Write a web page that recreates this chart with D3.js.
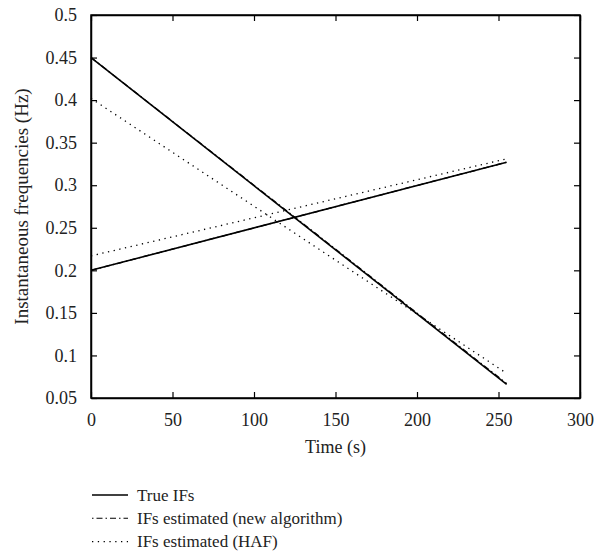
<!DOCTYPE html>
<html>
<head>
<meta charset="utf-8">
<script src="https://cdn.jsdelivr.net/npm/d3@7"></script>
<style>
  body { margin: 0; background: #fff; }
  text { font-family: "Liberation Serif", "DejaVu Serif", serif; fill: #222; }
</style>
</head>
<body>
<svg id="chart"></svg>
<script>
// values
var timeEnds = [0, 255];
var trueDown = [0.45, 0.066];
var trueUp = [0.2, 0.327];
var newTime = [0, 60, 125, 190, 255];
var newDown = [0.45, 0.3599, 0.2625, 0.1648, 0.067];
var newUp = [0.2, 0.2299, 0.2623, 0.2947, 0.327];
var hafDown = [0.402, 0.079];
var hafUp = [0.217, 0.331];
var xTicks = [0, 50, 100, 150, 200, 250, 300];
var yTicks = [0.05, 0.1, 0.15, 0.2, 0.25, 0.3, 0.35, 0.4, 0.45, 0.5];
var legendLabels = ['True IFs', 'IFs estimated (new algorithm)', 'IFs estimated (HAF)'];

var W = 610, H = 556;
var pl = 91, pr = 580, pt = 15, pb = 398;

var svg = d3.select('#chart')
    .attr('width', W)
    .attr('height', H);

var x = d3.scaleLinear().domain([0, 300]).range([pl, pr]);
var y = d3.scaleLinear().domain([0.05, 0.5]).range([pb, pt]);

var line = d3.line()
    .x(function(d) { return x(d[0]); })
    .y(function(d) { return y(d[1]); });

function pairs(t, v) {
    return t.map(function(d, i) { return [d, v[i]]; });
}

var styles = [
    { dash: null, width: 1.6 },
    { dash: '6,3,1.5,3', width: 1.3 },
    { dash: '1.3,4.5', width: 1.3 }
];

var series = [
    { data: pairs(timeEnds, trueDown), s: 0 },
    { data: pairs(timeEnds, trueUp), s: 0 },
    { data: pairs(newTime, newDown), s: 1 },
    { data: pairs(newTime, newUp), s: 1 },
    { data: pairs(timeEnds, hafDown), s: 2 },
    { data: pairs(timeEnds, hafUp), s: 2 }
];

svg.selectAll('.series')
    .data(series)
    .enter()
    .append('path')
    .attr('class', 'series')
    .attr('d', function(d) { return line(d.data); })
    .style('fill', 'none')
    .style('stroke', '#000')
    .style('stroke-width', function(d) { return styles[d.s].width; })
    .style('stroke-dasharray', function(d) { return styles[d.s].dash; });

// axes, ticks pointing inwards on all four sides
var fs = '18px';
function styleText(g) {
    g.selectAll('text').style('font-size', fs).style('font-family', '"Liberation Serif", serif').attr('fill', '#222');
}
svg.append('g')
    .attr('transform', 'translate(0,' + pb + ')')
    .call(d3.axisBottom(x).tickValues(xTicks).tickSizeInner(-6).tickSizeOuter(0).tickPadding(15))
    .call(styleText);
svg.append('g')
    .attr('transform', 'translate(0,' + pt + ')')
    .call(d3.axisTop(x).tickValues(xTicks).tickSizeInner(-6).tickSizeOuter(0).tickFormat(''));
svg.append('g')
    .attr('transform', 'translate(' + pl + ',0)')
    .call(d3.axisLeft(y).tickValues(yTicks).tickSizeInner(-6).tickSizeOuter(0).tickPadding(14).tickFormat(d3.format('')))
    .call(styleText);
svg.append('g')
    .attr('transform', 'translate(' + pr + ',0)')
    .call(d3.axisRight(y).tickValues(yTicks).tickSizeInner(-6).tickSizeOuter(0).tickFormat(''));

svg.selectAll('.domain').style('stroke', '#000').style('stroke-width', 1.5);
svg.selectAll('.tick line').style('stroke', '#000').style('stroke-width', 1.2);

svg.append('rect')
    .attr('x', pl)
    .attr('y', pt)
    .attr('width', pr - pl)
    .attr('height', pb - pt)
    .style('fill', 'none')
    .style('stroke', '#000')
    .style('stroke-width', 1.5);

svg.append('text')
    .attr('x', (pl + pr) / 2)
    .attr('y', 453)
    .attr('text-anchor', 'middle')
    .style('font-size', fs)
    .text('Time (s)');

svg.append('text')
    .attr('transform', 'translate(28,' + ((pt + pb) / 2) + ') rotate(-90)')
    .attr('text-anchor', 'middle')
    .style('font-size', '19px')
    .text('Instantaneous frequencies (Hz)');

// legend
var leg = svg.selectAll('.leg')
    .data(legendLabels)
    .enter()
    .append('g')
    .attr('class', 'leg')
    .attr('transform', function(d, i) { return 'translate(92,' + (495 + i * 23.3) + ')'; });

leg.append('line')
    .attr('x1', 0)
    .attr('x2', 36)
    .style('stroke', '#000')
    .style('stroke-width', function(d, i) { return i == 0 ? 1.4 : 1.1; })
    .style('stroke-dasharray', function(d, i) { return i == 0 ? null : (i == 1 ? '1.5,3,6,3' : '1.3,4.5'); });

leg.append('text')
    .attr('x', 45)
    .attr('y', 5.5)
    .style('font-size', '17px')
    .text(function(d) { return d; });
</script>
</body>
</html>
